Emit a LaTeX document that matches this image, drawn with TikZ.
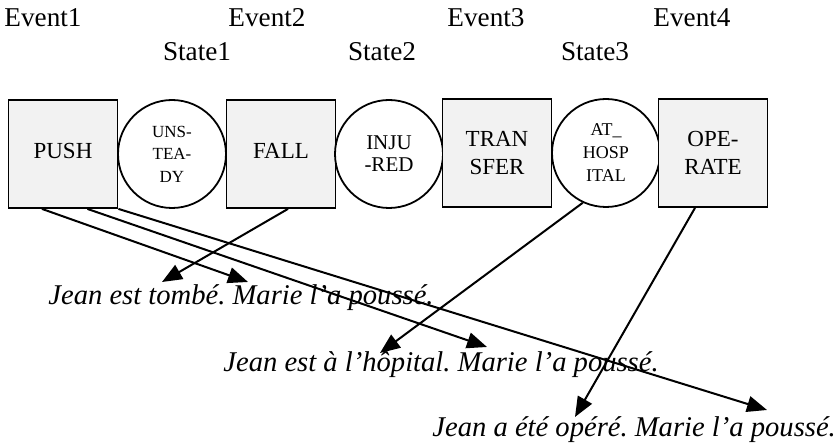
\documentclass[tikz,border=0pt]{standalone}
\usepackage{fontspec}
\setmainfont{Liberation Serif}
\usetikzlibrary{arrows.meta, calc}
\frenchspacing

\begin{document}
\begin{tikzpicture}[x=0.5pt, y=-0.5pt,
    eventbox/.style={draw, line width=0.9pt, fill=gray!10, minimum width=54.5pt,
        minimum height=54pt, inner sep=0pt, align=center,
        font=\fontsize{11.5}{14}\selectfont},
    statecircle/.style={draw, circle, line width=0.9pt, fill=white,
        minimum size=54pt, inner sep=0pt, align=center},
    toplabel/.style={font=\fontsize{13.6}{16}\selectfont},
    sentence/.style={anchor=west, inner sep=0pt, font=\fontsize{14.3}{17}\selectfont\itshape},
    link/.style={line width=1pt, -{Triangle[length=10pt, width=8pt]}}]
    \useasboundingbox (0,0) rectangle (836,448);

    % labels on top
    \node[toplabel] (ev1) at (43,18) {Event1};
    \node[toplabel] (ev2) at (267,18) {Event2};
    \node[toplabel] (ev3) at (486,18) {Event3};
    \node[toplabel] (ev4) at (692,18) {Event4};
    \node[toplabel] (st1) at (197,52) {State1};
    \node[toplabel] (st2) at (382,52) {State2};
    \node[toplabel] (st3) at (595,52) {State3};

    % the chain
    \node[eventbox] (push) at (63,154) {\raisebox{3pt}{PUSH}};
    \node[statecircle, font=\fontsize{8.5}{11.2}\selectfont] (unsteady) at (172,154) {UNS-\\TEA-\\DY};
    \node[eventbox] (fall) at (281,154) {\raisebox{3pt}{FALL}};
    \node[statecircle, font=\fontsize{10.5}{11}\selectfont] (injured) at (389,154) {INJU\\-RED};
    \node[eventbox] (transfer) at (497,153) {TRAN\\SFER};
    \node[statecircle, font=\fontsize{9}{11.5}\selectfont] (hospital) at (606,153) {AT\_\\HOSP\\ITAL};
    \node[eventbox] (operate) at (713,153) {OPE-\\RATE};

    % sentences
    \node[sentence] (sent1) at (48,298) {Jean est tombé. Marie l’a poussé.};
    \node[sentence] (sent2) at (223,365) {Jean est à l’hôpital. Marie l’a poussé.};
    \node[sentence] (sent3) at (432,430) {Jean a été opéré. Marie l’a poussé.};

    % arrow ends
    \coordinate (tip1) at (248,282);
    \coordinate (tip2) at (487,347);
    \coordinate (tip3) at (767,410);
    \coordinate (tip4) at (162,282);
    \coordinate (tip5) at (380,353);
    \coordinate (tip6) at (575,417);

    \draw[link] ($(push.south west)!.31!(push.south east)$) -- (tip1);
    \draw[link] ($(push.south west)!.72!(push.south east)$) -- (tip2);
    \draw[link] (push.south east) -- (tip3);
    \draw[link] ([xshift=3.5pt]fall.south) -- (tip4);
    \draw[link] (hospital.245) -- (tip5);
    \draw[link] ([xshift=-9pt]operate.south) -- (tip6);
\end{tikzpicture}
\end{document}
